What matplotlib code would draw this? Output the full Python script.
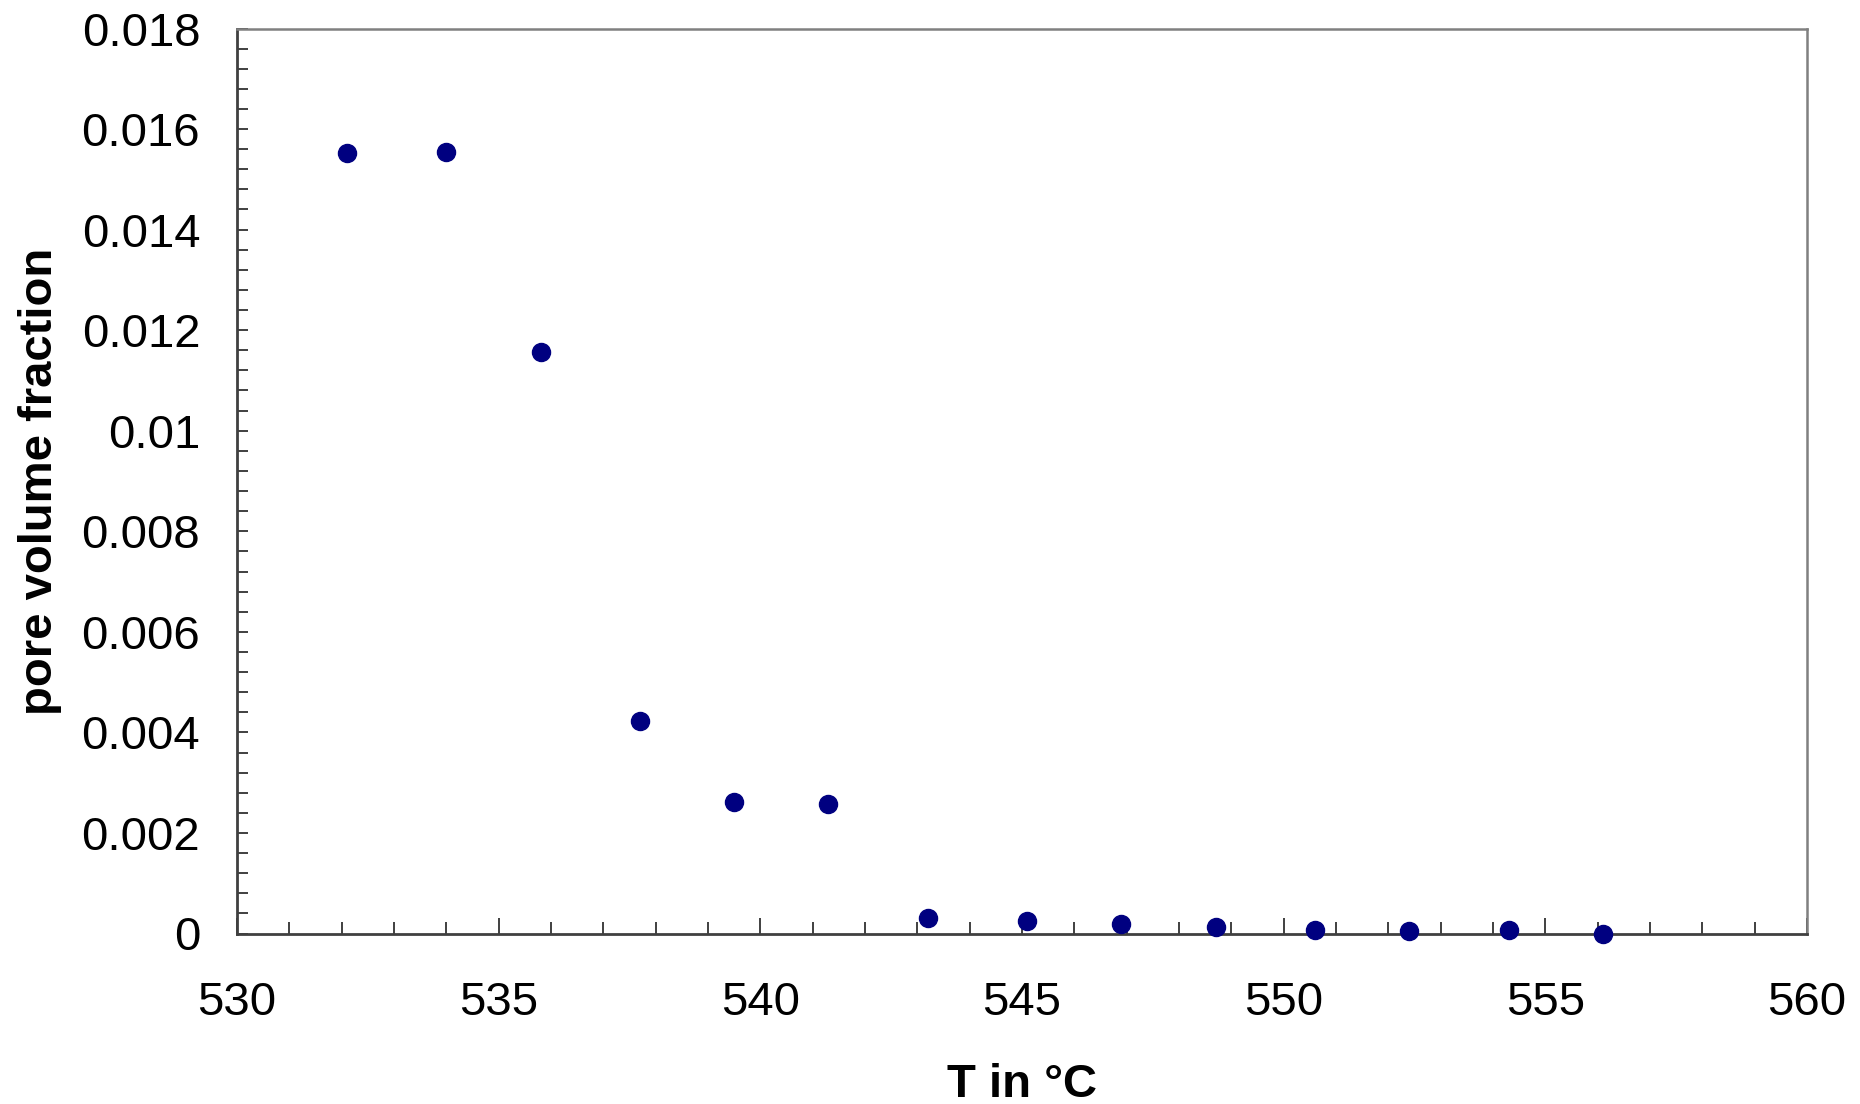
import numpy as np
import matplotlib.pyplot as plt
from matplotlib.ticker import MultipleLocator

# temperature (deg C) and measured pore volume fraction
temperature = [532.1, 534.0, 535.8, 537.7, 539.5, 541.3, 543.2,
               545.1, 546.9, 548.7, 550.6, 552.4, 554.3, 556.1]
pore_fraction = [0.01552, 0.01555, 0.01156, 0.00422, 0.00262, 0.00257, 0.00031,
                 0.00024, 0.00019, 0.00012, 0.00007, 0.00005, 0.00007, 0.0]

x_ticks = [530, 535, 540, 545, 550, 555, 560]
y_ticks = [0, 0.002, 0.004, 0.006, 0.008, 0.01, 0.012, 0.014, 0.016, 0.018]
y_tick_labels = ['0', '0.002', '0.004', '0.006', '0.008', '0.01',
                 '0.012', '0.014', '0.016', '0.018']

plt.rcParams['font.family'] = ['Liberation Sans', 'DejaVu Sans']

W, H = 1860, 1104
fig = plt.figure(figsize=(W / 100, H / 100), dpi=100)
left, right, top, bottom = 237, 1807, 28.5, 933.5
ax = fig.add_axes([left / W, 1 - bottom / H, (right - left) / W, (bottom - top) / H])

ax.plot(temperature, pore_fraction, linestyle='none', marker='o',
        markersize=13, color='#000080', clip_on=False, zorder=3)

ax.set_xlim(530, 560)
ax.set_ylim(0, 0.018)
ax.set_xticks(x_ticks)
ax.set_xticklabels([str(t) for t in x_ticks])
ax.set_yticks(y_ticks)
ax.set_yticklabels(y_tick_labels)
ax.xaxis.set_minor_locator(MultipleLocator(1))
ax.yaxis.set_minor_locator(MultipleLocator(0.0004))

ax.tick_params(axis='both', which='both', direction='in', colors='#404040',
               labelcolor='black', labelsize=34, width=1.4)
ax.tick_params(axis='x', which='major', length=11.5, pad=34)
ax.tick_params(axis='x', which='minor', length=8.3)
ax.tick_params(axis='y', which='both', length=7.7)
ax.tick_params(axis='y', which='major', pad=26.5)

for side in ['left', 'bottom']:
    ax.spines[side].set_color('#404040')
    ax.spines[side].set_linewidth(2)
for side in ['top', 'right']:
    ax.spines[side].set_color('#808080')
    ax.spines[side].set_linewidth(1.8)

fig.text((left + right) / 2 / W, 1 - 1097 / H, 'T in °C', ha='center',
         va='baseline', fontsize=34, fontweight='bold')
fig.text(40 / W, 1 - (top + bottom) / 2 / H, 'pore volume fraction', rotation=90,
         ha='center', va='center', fontsize=34, fontweight='bold')

fig.savefig('out.png', dpi=100)
